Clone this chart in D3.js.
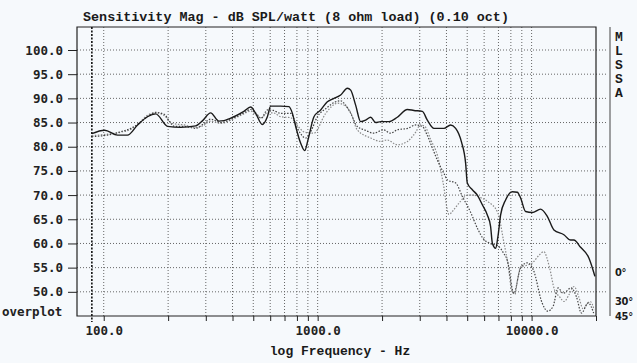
<!DOCTYPE html>
<html>
<head>
<meta charset="utf-8">
<script src="https://cdn.jsdelivr.net/npm/d3@7"></script>
<style>
  body { margin: 0; background: #f6f9fc; }
  svg { display: block; }
</style>
</head>
<body>
<div id="chart"></div>
<script>
// 0 degree (solid)
var freq0 = [88, 101, 116, 129, 144, 160, 175, 199, 229, 269, 290, 316, 345, 365, 406, 452, 486, 513, 551, 582, 603, 672, 734, 762, 789, 833, 870, 901, 961, 1033, 1110, 1192, 1281, 1377, 1427, 1505, 1588, 1676, 1769, 1866, 1970, 2154, 2357, 2626, 2818, 3085, 3255, 3496, 3893, 4183, 4416, 4700, 4916, 5006, 5284, 5577, 5884, 6209, 6433, 6553, 6789, 6960, 7165, 7558, 8125, 8576, 8885, 9376, 10077, 11018, 11840, 12714, 14155, 15214, 15764, 16943, 18526, 19555, 19761];
var db0 = [82.7, 83.4, 82.4, 82.4, 84.5, 86.2, 86.8, 84.2, 84.0, 84.3, 85.4, 87.0, 85.3, 85.4, 86.2, 87.3, 88.2, 86.9, 84.6, 86.2, 88.4, 88.4, 88.3, 86.9, 84.2, 80.7, 79.2, 81.4, 86.2, 87.6, 89.3, 90.0, 90.7, 92.1, 91.7, 88.6, 85.2, 85.5, 86.1, 85.0, 85.2, 85.2, 86.1, 87.7, 87.5, 87.3, 85.5, 83.8, 83.8, 84.5, 83.8, 81.0, 76.6, 72.5, 71.1, 70.0, 68.0, 65.9, 63.5, 60.1, 59.0, 61.4, 65.9, 69.0, 70.7, 70.6, 69.4, 66.6, 66.4, 67.1, 65.6, 62.8, 61.8, 60.7, 60.7, 59.2, 57.0, 53.9, 53.2];

// 30 degree (dotted)
var freq30 = [88, 104, 120, 134, 147, 160, 175, 192, 203, 214, 238, 270, 290, 316, 352, 406, 452, 486, 513, 545, 582, 620, 672, 748, 804, 879, 927, 997, 1100, 1200, 1281, 1340, 1427, 1530, 1650, 1830, 2030, 2190, 2360, 2630, 2880, 3085, 3250, 3420, 3620, 3890, 4050, 4420, 4750, 5180, 5600, 5940, 6400, 6960, 7400, 7700, 8260, 8890, 9560, 10200, 11200, 11900, 12600, 13300, 14050, 15300, 16200, 17100, 18400, 19500];
var db30 = [82.1, 82.4, 83.1, 83.8, 84.9, 86.2, 87.1, 86.7, 85.2, 84.2, 84.2, 83.8, 84.6, 85.7, 85.0, 86.0, 87.0, 87.7, 87.0, 85.9, 87.6, 87.5, 86.9, 86.9, 83.8, 81.8, 83.1, 86.2, 88.0, 89.2, 89.5, 88.8, 86.9, 84.2, 83.5, 82.8, 83.5, 82.8, 83.5, 83.8, 84.5, 84.2, 82.4, 80.0, 77.3, 74.5, 73.1, 72.5, 69.7, 66.5, 63.0, 61.0, 60.0, 59.5, 58.0, 56.5, 49.7, 55.0, 56.0, 54.5, 47.7, 46.0, 47.0, 50.8, 49.7, 50.8, 49.0, 45.6, 47.7, 45.6];

// 45 degree (light dotted)
var freq45 = [88, 104, 120, 134, 147, 160, 175, 192, 210, 238, 270, 290, 316, 352, 406, 452, 486, 513, 545, 582, 620, 672, 748, 800, 870, 960, 1090, 1240, 1340, 1430, 1530, 1770, 1970, 2110, 2360, 2630, 2880, 3020, 3170, 3380, 3640, 3850, 4110, 4330, 4650, 5000, 5340, 5760, 6270, 6960, 7400, 7800, 8050, 8350, 8600, 8900, 9500, 10100, 10800, 11400, 12100, 12800, 13500, 14200, 15000, 15800, 16600, 17400, 18200, 18800, 19600];
var db45 = [82.3, 82.6, 83.0, 83.6, 85.0, 86.5, 87.0, 86.4, 84.8, 84.5, 84.0, 84.3, 85.3, 84.8, 85.8, 86.8, 87.4, 86.6, 86.0, 87.0, 87.0, 86.2, 86.0, 84.5, 83.0, 82.8, 86.9, 89.0, 88.5, 87.0, 83.5, 81.8, 81.1, 81.4, 80.4, 81.1, 83.1, 84.5, 84.2, 81.4, 78.0, 72.8, 66.0, 67.0, 68.7, 70.0, 70.0, 69.5, 68.6, 66.3, 60.5, 55.0, 50.5, 49.5, 52.5, 55.2, 55.5, 56.0, 57.5, 58.3, 55.2, 50.4, 49.0, 48.0, 49.5, 51.1, 49.0, 46.5, 47.5, 48.0, 46.3];

var yTicks = [50, 55, 60, 65, 70, 75, 80, 85, 90, 95, 100];
var xGrid = [100, 200, 300, 400, 500, 600, 700, 800, 900, 1000, 2000, 3000, 4000, 5000, 6000, 7000, 8000, 9000, 10000];
var xLabels = [100, 1000, 10000];
var markerFreq = 88;
var legendLabels = ["0°", "30°", "45°"];

(function () {
  var w = 637,
      h = 363;
  var left = 77, right = 596, top = 27, bottom = 316;

  var svg = d3.select("#chart")
      .append("svg")
      .attr("width", w)
      .attr("height", h);

  svg.append("rect")
      .attr("width", w)
      .attr("height", h)
      .attr("fill", "#f6f9fc");

  var x = d3.scaleLog().domain([75, 20000]).range([left, right]);
  var y = d3.scaleLinear().domain([45, 100]).range([bottom, 50]);

  // grid
  svg.selectAll("line.hgrid")
      .data(yTicks)
      .enter()
      .append("line")
      .attr("class", "hgrid")
      .attr("x1", left)
      .attr("x2", right + 10)
      .attr("y1", function(d) { return y(d); })
      .attr("y2", function(d) { return y(d); })
      .attr("stroke", "#666")
      .attr("stroke-dasharray", "1,2");

  svg.selectAll("line.vgrid")
      .data(xGrid)
      .enter()
      .append("line")
      .attr("class", "vgrid")
      .attr("x1", function(d) { return x(d); })
      .attr("x2", function(d) { return x(d); })
      .attr("y1", top)
      .attr("y2", bottom)
      .attr("stroke", "#666")
      .attr("stroke-dasharray", "1,2");

  // axes
  var yAxis = d3.axisLeft(y).tickValues(yTicks).tickSize(9).tickFormat(d3.format(".1f"));
  var gy = svg.append("g")
      .attr("transform", "translate(" + left + ",0)")
      .call(yAxis);
  gy.select(".domain").remove();
  gy.selectAll("line").attr("stroke", "#222");
  gy.selectAll("text")
      .attr("font-family", "DejaVu Sans Mono")
      .attr("font-weight", "bold")
      .attr("font-size", "12.5px")
      .attr("fill", "#222")
      .attr("x", -14);

  var xAxis = d3.axisBottom(x).tickValues(xGrid.concat([20000])).tickSize(5)
      .tickFormat(function(d) { return xLabels.indexOf(d) >= 0 ? d3.format(".1f")(d) : ""; });
  var gx = svg.append("g")
      .attr("transform", "translate(0," + bottom + ")")
      .call(xAxis);
  gx.select(".domain").remove();
  gx.selectAll("line").attr("stroke", "#222");
  gx.selectAll("text")
      .attr("font-family", "DejaVu Sans Mono")
      .attr("font-weight", "bold")
      .attr("font-size", "12.5px")
      .attr("fill", "#222")
      .attr("dy", "0.9em");

  // frame
  svg.append("path")
      .attr("d", "M" + left + "," + top + "H" + right + "V" + bottom + "H" + left + "Z")
      .attr("fill", "none")
      .attr("stroke", "#222")
      .attr("stroke-width", 1.2);
  svg.append("line")
      .attr("x1", 610).attr("x2", 610)
      .attr("y1", top).attr("y2", bottom)
      .attr("stroke", "#444");

  // start marker
  svg.append("line")
      .attr("x1", x(markerFreq)).attr("x2", x(markerFreq))
      .attr("y1", top).attr("y2", bottom + 6)
      .attr("stroke", "#111")
      .attr("stroke-width", 1.6)
      .attr("stroke-dasharray", "2,1.5");

  var line = d3.line()
      .x(function(d) { return x(d[0]); })
      .y(function(d) { return y(d[1]); })
      .curve(d3.curveMonotoneX);

  function pairs(f, v) {
    return f.map(function(d, i) { return [d, v[i]]; });
  }

  svg.append("path")
      .datum(pairs(freq45, db45))
      .attr("d", line)
      .attr("fill", "none")
      .attr("stroke", "#8a8a8a")
      .attr("stroke-width", 1.2)
      .attr("stroke-dasharray", "1.5,1.5");

  svg.append("path")
      .datum(pairs(freq30, db30))
      .attr("d", line)
      .attr("fill", "none")
      .attr("stroke", "#444")
      .attr("stroke-width", 1.2)
      .attr("stroke-dasharray", "1.5,1.5");

  svg.append("path")
      .datum(pairs(freq0, db0))
      .attr("d", line)
      .attr("fill", "none")
      .attr("stroke", "#1a1a1a")
      .attr("stroke-width", 1.4);

  // texts
  svg.append("text")
      .text("Sensitivity Mag - dB SPL/watt (8 ohm load) (0.10 oct)")
      .attr("x", 296)
      .attr("y", 21)
      .attr("font-family", "Liberation Mono")
      .attr("font-weight", "bold")
      .attr("font-size", "13.4px")
      .attr("fill", "#1a1a1a")
      .attr("text-anchor", "middle");

  svg.append("text")
      .text("log Frequency - Hz")
      .attr("x", 340)
      .attr("y", 355)
      .attr("font-family", "Liberation Mono")
      .attr("font-weight", "bold")
      .attr("font-size", "13px")
      .attr("fill", "#1a1a1a")
      .attr("text-anchor", "middle");

  svg.append("text")
      .text("overplot")
      .attr("x", 2)
      .attr("y", 316)
      .attr("font-family", "DejaVu Sans Mono")
      .attr("font-weight", "bold")
      .attr("font-size", "12.5px")
      .attr("fill", "#222");

  svg.selectAll("text.mlssa")
      .data("MLSSA".split(""))
      .enter()
      .append("text")
      .attr("class", "mlssa")
      .text(function(d) { return d; })
      .attr("x", 619)
      .attr("y", function(d, i) { return 41 + i * 14; })
      .attr("font-family", "Liberation Mono")
      .attr("font-weight", "bold")
      .attr("font-size", "13px")
      .attr("fill", "#1a1a1a")
      .attr("text-anchor", "middle");

  svg.selectAll("text.legend")
      .data(legendLabels)
      .enter()
      .append("text")
      .attr("class", "legend")
      .text(function(d) { return d; })
      .attr("x", 615)
      .attr("y", function(d, i) { return [276, 305, 320][i]; })
      .attr("font-family", "DejaVu Sans Condensed, DejaVu Sans")
      .attr("font-weight", "bold")
      .attr("font-size", "11px")
      .attr("letter-spacing", "-0.3px")
      .attr("fill", "#1a1a1a");
})();
</script>
</body>
</html>
